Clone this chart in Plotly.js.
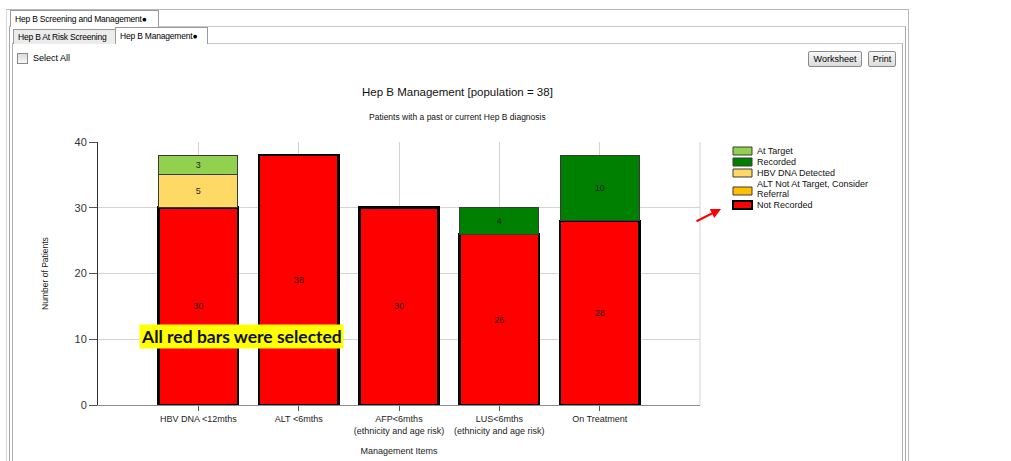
<!DOCTYPE html>
<html>
<head>
<meta charset="utf-8">
<script src="https://cdn.plot.ly/plotly-3.0.1.min.js"></script>
<style>
  html, body { margin:0; padding:0; background:#fff; }
  #wrap { position:relative; width:1011px; height:461px; overflow:hidden; font-family:"Liberation Sans", Arial, sans-serif; font-size:9px; color:#000; }
  .abs { position:absolute; box-sizing:border-box; }
  #chart { position:absolute; left:0; top:0; width:1011px; height:461px; }
  .tab { white-space:nowrap; padding-left:4px; line-height:14px; font-size:8.5px; letter-spacing:-0.2px; overflow:hidden; }
  .btn { border:1px solid #8a8a8a; border-radius:2px; background:linear-gradient(#f6f6f6,#dcdcdc); text-align:center; line-height:14px; font-size:9px; }
</style>
</head>
<body>
<div id="wrap">
  <!-- window chrome -->
  <div class="abs" style="left:6px;top:9px;width:903px;height:470px;border:1px solid #b8b8b8;border-left-color:#d8d8d8;"></div>
  <div class="abs" style="left:9px;top:26px;width:897px;height:450px;border:1px solid #a8a8a8;border-top-color:#c8c8c8;"></div>
  <div class="abs" style="left:12px;top:43px;width:891px;height:440px;border:1px solid #b0b0b0;border-top-color:#c8c8c8;"></div>
  <div class="abs tab" style="left:10px;top:10px;width:149px;height:17px;background:#fff;border:1px solid #9a9a9a;border-bottom:none;line-height:16px;">Hep B Screening and Management&#9679;</div>
  <div class="abs tab" style="left:13px;top:29px;width:103px;height:15px;background:#ececec;border:1px solid #9a9a9a;border-bottom:none;">Hep B At Risk Screening</div>
  <div class="abs tab" style="left:115px;top:27px;width:93px;height:17px;background:#fff;border:1px solid #9a9a9a;border-bottom:none;line-height:16px;">Hep B Management&#9679;</div>
  <div class="abs" style="left:17px;top:53px;width:11px;height:11px;border:1px solid #8a8a8a;background:linear-gradient(#dcdcdc,#f8f8f8);"></div>
  <div class="abs" style="left:33px;top:52px;line-height:12px;">Select All</div>
  <div class="abs btn" style="left:808px;top:51px;width:54px;height:16px;">Worksheet</div>
  <div class="abs btn" style="left:868px;top:51px;width:28px;height:16px;">Print</div>
  <div id="chart"></div>
</div>
<script>
// ---- data ----
const categories = ['HBV DNA <12mths', 'ALT <6mths', 'AFP<6mths<br>(ethnicity and age risk)', 'LUS<6mths<br>(ethnicity and age risk)', 'On Treatment'];
const notRecorded     = [30, 38, 30, 26, 28];
const altNotAtTarget  = [null, null, null, null, null];
const hbvDnaDetected  = [5, null, null, null, null];
const recorded        = [null, null, null, 4, 10];
const atTarget        = [3, null, null, null, null];
const seriesNames = ['Not Recorded', 'ALT Not At Target, Consider<br>Referral', 'HBV DNA Detected', 'Recorded', 'At Target'];
const seriesColors = ['#FF0000', '#FFC000', '#FFD966', '#008000', '#92D050'];
const yTicks = [0, 10, 20, 30, 40];

// ---- geometry helpers (plot area in pixels) ----
const PL = 98, PR = 700, PT = 142, PB = 405;
const px2x = x => (x - PL) / (PR - PL);
const px2y = y => (PB - y) / (PB - PT);

const seriesValues = [notRecorded, altNotAtTarget, hbvDnaDetected, recorded, atTarget];
const traces = seriesValues.map((vals, i) => ({
  type: 'bar',
  name: seriesNames[i],
  x: categories,
  y: vals,
  width: 0.79,
  marker: {
    color: seriesColors[i],
    line: i === 0 ? {color: '#000', width: 2.6} : {color: '#3a3a3a', width: 1}
  },
  texttemplate: '%{y}',
  textposition: 'inside',
  insidetextanchor: 'middle',
  textangle: 0,
  constraintext: 'none',
  textfont: {size: 9, color: '#222', family: 'Liberation Sans, Arial, sans-serif'},
  hoverinfo: 'x+y+name',
  showlegend: false
}));

// custom compact legend (order top->bottom reversed from stacking)
const shapes = [
  {type: 'line', xref: 'paper', yref: 'paper', x0: 1, x1: 1, y0: 0, y1: 1, line: {color: '#d4d4d4', width: 1}}
];
const annotations = [];
const legendRows = [151, 162, 173, 184, 205]; // text centre rows in px
const legendOrder = [4, 3, 2, 1, 0];
legendOrder.forEach((si, k) => {
  const ty = legendRows[k];
  const lines = seriesNames[si].split('<br>');
  const sy = lines.length > 1 ? ty + 3 : ty - 4;
  shapes.push({
    type: 'rect', xref: 'paper', yref: 'paper',
    x0: px2x(733), x1: px2x(752), y0: px2y(sy + 8), y1: px2y(sy),
    fillcolor: seriesColors[si],
    line: {color: si === 0 ? '#000' : '#3a3a3a', width: si === 0 ? 2 : 1}
  });
  lines.forEach((ln, j) => {
    annotations.push({
      xref: 'paper', yref: 'paper', x: px2x(755), y: px2y(ty + j * 10),
      xanchor: 'left', yanchor: 'middle', align: 'left', showarrow: false,
      text: ln, font: {size: 9, color: '#111'}
    });
  });
});

// titles
annotations.push({xref: 'paper', yref: 'paper', x: px2x(457), y: px2y(92), xanchor: 'center', yanchor: 'middle', showarrow: false,
  text: 'Hep B Management [population = 38]', font: {size: 11.5, color: '#111'}});
annotations.push({xref: 'paper', yref: 'paper', x: px2x(457), y: px2y(117), xanchor: 'center', yanchor: 'middle', showarrow: false,
  text: 'Patients with a past or current Hep B diagnosis', font: {size: 8.5, color: '#111'}});
// highlight note
annotations.push({xref: 'paper', yref: 'paper', x: px2x(241), y: px2y(336), xanchor: 'center', yanchor: 'middle', showarrow: false,
  text: '<b>All red bars were selected</b>', bgcolor: '#FFFF00', borderpad: 1,
  font: {size: 17.5, color: '#111', family: 'Lato, Carlito, sans-serif'}});
// red arrow
annotations.push({xref: 'paper', yref: 'paper', x: px2x(721), y: px2y(209), ax: -26, ay: 13, text: '',
  showarrow: true, arrowhead: 2, arrowsize: 1, arrowwidth: 2, arrowcolor: '#FF0000'});

const layout = {
  width: 1011, height: 461,
  margin: {l: PL, r: 1011 - PR, t: PT, b: 461 - PB, pad: 0},
  paper_bgcolor: 'rgba(0,0,0,0)',
  plot_bgcolor: '#fff',
  barmode: 'stack',
  showlegend: false,
  font: {family: 'Liberation Sans, Arial, sans-serif', size: 9, color: '#222'},
  xaxis: {
    type: 'category', range: [-1, 5], fixedrange: true,
    showgrid: true, gridcolor: '#d4d4d4', gridwidth: 1,
    showline: true, linecolor: '#8c8c8c', linewidth: 1,
    ticks: 'outside', ticklen: 5, tickcolor: '#555', tickwidth: 1,
    tickfont: {size: 9, color: '#222'},
    title: {text: 'Management Items', font: {size: 9, color: '#222'}, standoff: 13}
  },
  yaxis: {
    range: [0, 40], tickvals: yTicks, fixedrange: true,
    showgrid: true, gridcolor: '#d4d4d4', gridwidth: 1, zeroline: false,
    showline: true, linecolor: '#333', linewidth: 1,
    ticks: 'outside', ticklen: 8, tickcolor: '#555', tickwidth: 1,
    tickfont: {size: 11, color: '#333'},
    title: {text: 'Number of Patients', font: {size: 8.5, color: '#222'}, standoff: 24}
  },
  shapes: shapes,
  annotations: annotations
};

Plotly.newPlot('chart', traces, layout, {displayModeBar: false, staticPlot: true});
</script>
</body>
</html>
